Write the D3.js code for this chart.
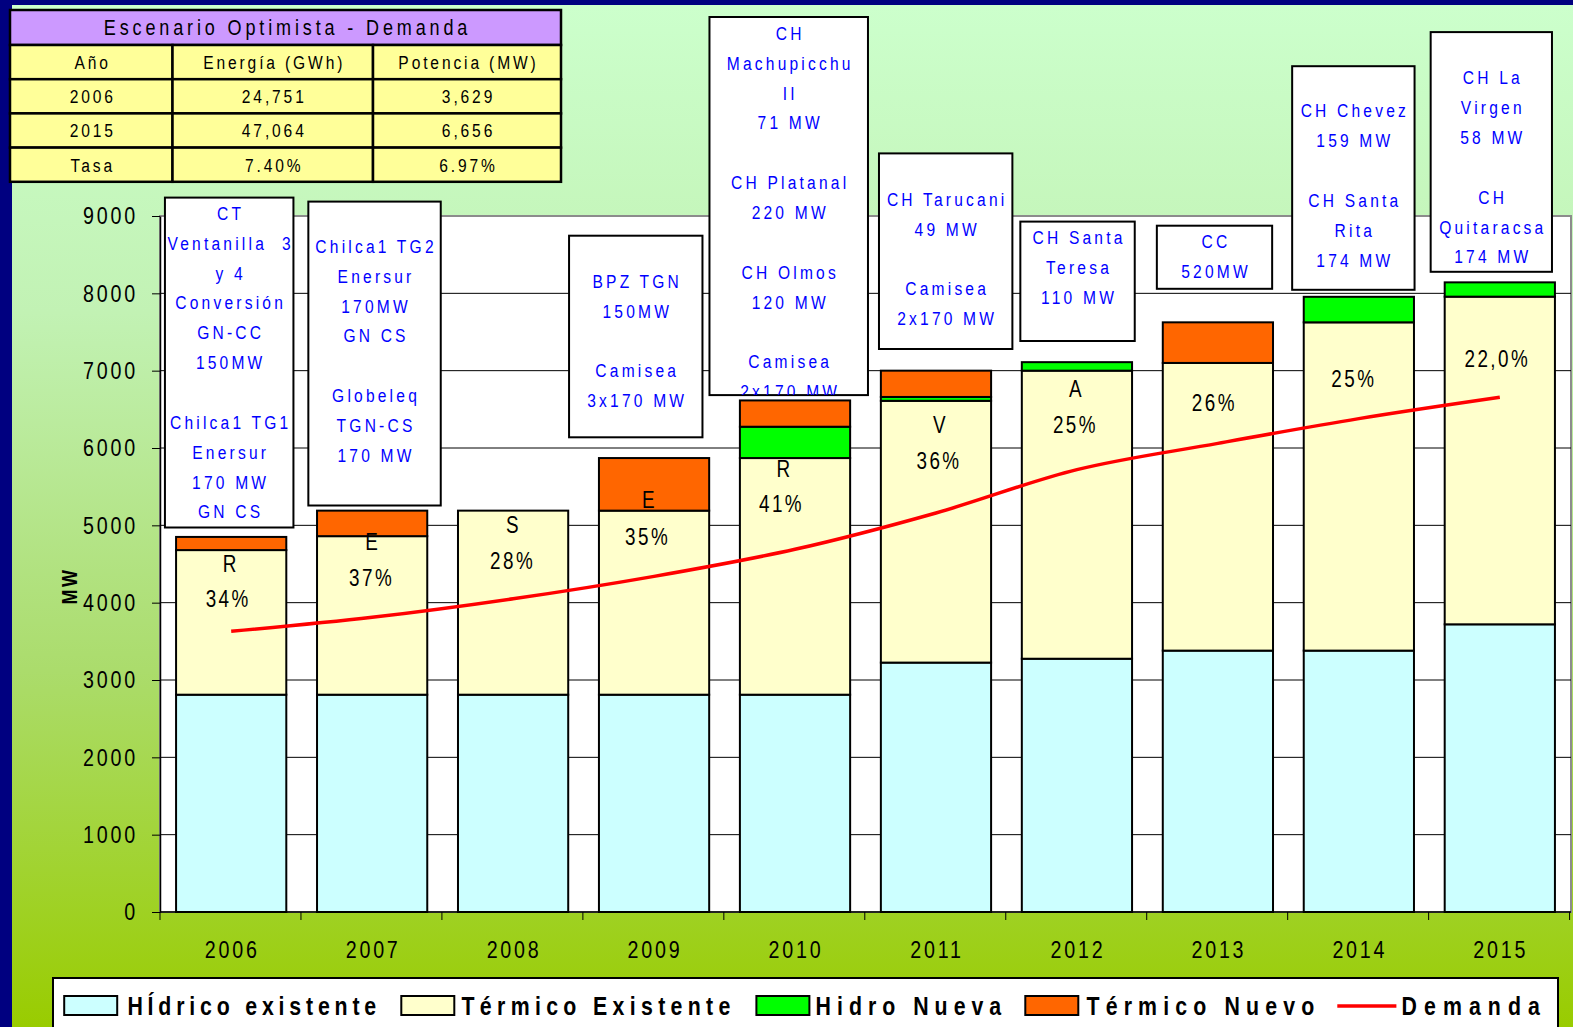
<!DOCTYPE html>
<html>
<head>
<meta charset="utf-8">
<script src="https://cdn.jsdelivr.net/npm/d3@7"></script>
<style>
html, body { margin: 0; padding: 0; background: #000080; overflow: hidden; }
svg { display: block; }
text { font-family: "Liberation Sans Narrow", "Arial Narrow", "Liberation Sans", Arial, sans-serif; white-space: pre; }
</style>
</head>
<body>
<svg id="chart" width="1573" height="1027"></svg>
<script>
// datos
var anios = ["2006", "2007", "2008", "2009", "2010", "2011", "2012", "2013", "2014", "2015"];
var hidricoExistente = [2810, 2810, 2810, 2810, 2810, 3225, 3275, 3380, 3380, 3720];
var termicoExistente = [1870, 2050, 2380, 2380, 3060, 3385, 3725, 3720, 4245, 4237];
var hidroNueva = [0, 0, 0, 0, 405, 50, 110, 0, 330, 185];
var termicoNuevo = [170, 330, 0, 680, 340, 340, 0, 525, 0, 0];
var demanda = [3629, 3810, 4050, 4340, 4690, 5160, 5720, 6060, 6380, 6656];
var reservaLetra = ["R", "E", "S", "E", "R", "V", "A", "", "", ""];
var reservaPct = ["34%", "37%", "28%", "35%", "41%", "36%", "25%", "26%", "25%", "22,0%"];
var yTicks = [0, 1000, 2000, 3000, 4000, 5000, 6000, 7000, 8000, 9000];

var tablaTitulo = "Escenario Optimista - Demanda";
var tablaCabecera = ["Año", "Energía (GWh)", "Potencia (MW)"];
var tablaFilas = [
    ["2006", "24,751", "3,629"],
    ["2015", "47,064", "6,656"],
    ["Tasa", "7.40%", "6.97%"]
];

var anotaciones = [
    { anio: "2006", lineas: ["CT", "Ventanilla  3", "y 4", "Conversión", "GN-CC", "150MW", "", "Chilca1 TG1", "Enersur", "170 MW", "GN CS"] },
    { anio: "2007", lineas: ["Chilca1 TG2", "Enersur", "170MW", "GN CS", "", "Globeleq", "TGN-CS", "170 MW"] },
    { anio: "2009", lineas: ["BPZ TGN", "150MW", "", "Camisea", "3x170 MW"] },
    { anio: "2010", lineas: ["CH", "Machupicchu", "II", "71 MW", "", "CH Platanal", "220 MW", "", "CH Olmos", "120 MW", "", "Camisea", "2x170 MW"] },
    { anio: "2011", lineas: ["CH Tarucani", "49 MW", "", "Camisea", "2x170 MW"] },
    { anio: "2012", lineas: ["CH Santa", "Teresa", "110 MW"] },
    { anio: "2013", lineas: ["CC", "520MW"] },
    { anio: "2014", lineas: ["CH Chevez", "159 MW", "", "CH Santa", "Rita", "174 MW"] },
    { anio: "2015", lineas: ["CH La", "Virgen", "58 MW", "", "CH", "Quitaracsa", "174 MW"] }
];

var series = [
    { key: "hidricoExistente", nombre: "HÍdrico existente", valores: hidricoExistente, color: "#ccffff" },
    { key: "termicoExistente", nombre: "Térmico Existente", valores: termicoExistente, color: "#ffffcc" },
    { key: "hidroNueva", nombre: "Hidro Nueva", valores: hidroNueva, color: "#00ff00" },
    { key: "termicoNuevo", nombre: "Térmico Nuevo", valores: termicoNuevo, color: "#ff6600" }
];

// posiciones de las cajas de texto (desplazamiento respecto al centro de la barra)
var cajas = {
    "2006": { dx: -2, w: 128.5, top: 197.6, bottom: 527.5, first: 213 },
    "2007": { dx: 2.4, w: 132.4, top: 201.6, bottom: 505.5, first: 246 },
    "2009": { dx: -18.3, w: 133.4, top: 235.7, bottom: 437.3, first: 281 },
    "2010": { dx: -6.3, w: 158.5, top: 17, bottom: 395.1, first: 33 },
    "2011": { dx: 9.7, w: 133.4, top: 153.4, bottom: 349, first: 199 },
    "2012": { dx: 0.6, w: 114.4, top: 221.6, bottom: 341, first: 237 },
    "2013": { dx: -3.4, w: 115.3, top: 225.7, bottom: 288.8, first: 241 },
    "2014": { dx: -5.5, w: 122.4, top: 66.2, bottom: 289.8, first: 110.5 },
    "2015": { dx: -8.5, w: 121.3, top: 32.1, bottom: 271.8, first: 77.5 }
};
var letraDx = [-2, -1, -1, -6, -12, 3, -2, 0, 0, 0];
var letraDy = [14, 6, 14, -11, 11, 24, 18, 0, 0, 0];
var pctDx = [-4.5, -2, -2, -8, -15, 1.5, -3, -5, -6.5, -4];
var pctDy = [49, 42, 50, 26, 46, 60, 54, 40, 56, 62];

var ESC = 0.82; // no hay Arial Narrow: se comprime la letra en horizontal
function angosto(px, py) {
    return "translate(" + px + "," + py + ") scale(" + ESC + ",1)";
}

var svg = d3.select("#chart");
var W = 1573, H = 1027;
var plot = { left: 160, right: 1571, top: 216, bottom: 912 };

// fondo degradado
var defs = svg.append("defs");
var grad = defs.append("linearGradient").attr("id", "fondo").attr("x1", 0).attr("y1", 0).attr("x2", 0).attr("y2", 1);
grad.append("stop").attr("offset", "0%").attr("stop-color", "#ccffcc");
grad.append("stop").attr("offset", "30%").attr("stop-color", "#c2f2b4");
grad.append("stop").attr("offset", "65%").attr("stop-color", "#abdc6c");
grad.append("stop").attr("offset", "100%").attr("stop-color", "#99cc00");

svg.append("rect").attr("x", 0).attr("y", 0).attr("width", W).attr("height", H).attr("fill", "#000080");
svg.append("rect").attr("x", 12).attr("y", 5).attr("width", W - 12).attr("height", H - 5).attr("fill", "url(#fondo)");

var x = d3.scaleBand().domain(anios).range([plot.left, plot.right]).paddingInner(0.218).paddingOuter(0.114);
var y = d3.scaleLinear().domain([0, 9000]).range([plot.bottom, plot.top]);
var paso = x.step();

// area de trazado
svg.append("rect")
    .attr("x", plot.left).attr("y", plot.top)
    .attr("width", plot.right - plot.left).attr("height", plot.bottom - plot.top)
    .attr("fill", "#ffffff").attr("stroke", "#8c8c8c").attr("stroke-width", 2);

svg.append("g").selectAll("line")
    .data(yTicks.filter(function (d) { return d > 0 && d < 9000; }))
    .enter().append("line")
    .attr("x1", plot.left).attr("x2", plot.right)
    .attr("y1", function (d) { return y(d); }).attr("y2", function (d) { return y(d); })
    .attr("stroke", "#000").attr("stroke-width", 1);

// barras apiladas
var filas = anios.map(function (a, i) {
    var o = { anio: a };
    series.forEach(function (s) { o[s.key] = s.valores[i]; });
    return o;
});
var stack = d3.stack().keys(series.map(function (s) { return s.key; }));
var capas = stack(filas);

svg.append("g").selectAll("g")
    .data(capas)
    .enter().append("g")
    .attr("fill", function (d, i) { return series[i].color; })
    .selectAll("rect")
    .data(function (d) { return d.filter(function (p) { return p[1] - p[0] > 0; }); })
    .enter().append("rect")
    .attr("x", function (d) { return x(d.data.anio); })
    .attr("y", function (d) { return y(d[1]); })
    .attr("width", x.bandwidth())
    .attr("height", function (d) { return y(d[0]) - y(d[1]); })
    .attr("stroke", "#000").attr("stroke-width", 2);

// linea de demanda
var linea = d3.line()
    .x(function (d, i) { return x(anios[i]) + x.bandwidth() / 2; })
    .y(function (d) { return y(d); })
    .curve(d3.curveCatmullRom.alpha(0.5));

svg.append("path")
    .datum(demanda)
    .attr("d", linea)
    .attr("fill", "none").attr("stroke", "#ff0000").attr("stroke-width", 3.5);

// etiquetas de reserva
var topeTermico = capas[1];
var etiquetas = svg.append("g").attr("font-size", 23).attr("fill", "#000").attr("text-anchor", "middle").style("letter-spacing", "3px");
etiquetas.selectAll("text.letra")
    .data(anios)
    .enter().append("text").attr("class", "letra")
    .attr("transform", function (d, i) {
        return angosto(x(d) + x.bandwidth() / 2 + letraDx[i] + 1.5, y(topeTermico[i][1]) + letraDy[i]);
    })
    .attr("dy", "0.36em")
    .text(function (d, i) { return reservaLetra[i]; });
etiquetas.selectAll("text.pct")
    .data(anios)
    .enter().append("text").attr("class", "pct")
    .attr("transform", function (d, i) {
        return angosto(x(d) + x.bandwidth() / 2 + pctDx[i] + 1.5, y(topeTermico[i][1]) + pctDy[i]);
    })
    .attr("dy", "0.36em")
    .text(function (d, i) { return reservaPct[i]; });

// ejes
var ejeY = d3.axisLeft(y).tickValues(yTicks).tickSize(8).tickSizeOuter(0).tickPadding(14).tickFormat(function (d) { return d; });
var gy = svg.append("g").attr("transform", "translate(" + plot.left + ",0)").call(ejeY);
gy.select(".domain").attr("stroke", "#000").attr("stroke-width", 1.5);
gy.selectAll(".tick line").attr("stroke", "#000");
gy.selectAll(".tick text")
    .attr("x", -22 / ESC).attr("transform", "scale(" + ESC + ",1)")
    .attr("font-size", 24).attr("fill", "#000").style("letter-spacing", "3.4px")
    .attr("font-family", null);

svg.append("line")
    .attr("x1", plot.left).attr("x2", plot.right)
    .attr("y1", plot.bottom).attr("y2", plot.bottom)
    .attr("stroke", "#000").attr("stroke-width", 1.5);

var cortes = d3.range(anios.length + 1).map(function (i) { return plot.left + i * paso; });
svg.append("g").selectAll("line")
    .data(cortes)
    .enter().append("line")
    .attr("x1", function (d) { return d; }).attr("x2", function (d) { return d; })
    .attr("y1", plot.bottom).attr("y2", plot.bottom + 8)
    .attr("stroke", "#000");

svg.append("g").selectAll("text")
    .data(anios)
    .enter().append("text")
    .attr("transform", function (d) { return angosto(x(d) + x.bandwidth() / 2 + 1, 958); })
    .attr("text-anchor", "middle").attr("font-size", 24).style("letter-spacing", "3.4px")
    .text(function (d) { return d; });

svg.append("text")
    .attr("transform", "translate(77,586) rotate(-90) scale(" + ESC + ",1)")
    .attr("text-anchor", "middle").attr("font-size", 22).attr("font-weight", "bold")
    .style("letter-spacing", "3px")
    .text("MW");

// cajas de proyectos
var gCajas = svg.append("g");
anotaciones.forEach(function (a, k) {
    var c = cajas[a.anio];
    var cx = x(a.anio) + x.bandwidth() / 2 + c.dx;
    var x0 = cx - c.w / 2;
    defs.append("clipPath").attr("id", "clip" + k)
        .append("rect").attr("x", x0).attr("y", c.top).attr("width", c.w).attr("height", c.bottom - c.top);
    var g = gCajas.append("g");
    g.append("rect")
        .attr("x", x0).attr("y", c.top).attr("width", c.w).attr("height", c.bottom - c.top)
        .attr("fill", "#fff").attr("stroke", "#000").attr("stroke-width", 2);
    g.append("g").attr("clip-path", "url(#clip" + k + ")")
        .selectAll("text")
        .data(a.lineas)
        .enter().append("text")
        .attr("transform", function (d, i) { return angosto(cx + 1.5, c.first + i * 29.85); })
        .attr("dy", "0.36em")
        .attr("text-anchor", "middle").attr("font-size", 19).attr("fill", "#0000ff")
        .style("letter-spacing", "3.9px")
        .text(function (d) { return d; });
});

// tabla de demanda
var tabla = { y: 10, cols: [10, 172.5, 373, 561], filaH: 34.2, tituloH: 35 };
var gt = svg.append("g");
gt.append("rect").attr("x", tabla.cols[0]).attr("y", tabla.y)
    .attr("width", tabla.cols[3] - tabla.cols[0]).attr("height", tabla.tituloH)
    .attr("fill", "#cc99ff").attr("stroke", "#000").attr("stroke-width", 2.5);
gt.append("text")
    .attr("transform", angosto((tabla.cols[0] + tabla.cols[3]) / 2 + 2, tabla.y + tabla.tituloH / 2))
    .attr("dy", "0.36em").attr("text-anchor", "middle").attr("font-size", 22)
    .style("letter-spacing", "4.7px")
    .text(tablaTitulo);

var todasFilas = [tablaCabecera].concat(tablaFilas);
todasFilas.forEach(function (fila, r) {
    var fy = tabla.y + tabla.tituloH + r * tabla.filaH;
    fila.forEach(function (celda, c) {
        gt.append("rect")
            .attr("x", tabla.cols[c]).attr("y", fy)
            .attr("width", tabla.cols[c + 1] - tabla.cols[c]).attr("height", tabla.filaH)
            .attr("fill", "#ffff99").attr("stroke", "#000").attr("stroke-width", 2.5);
        gt.append("text")
            .attr("transform", angosto((tabla.cols[c] + tabla.cols[c + 1]) / 2 + 1.5, fy + tabla.filaH / 2))
            .attr("dy", "0.36em").attr("text-anchor", "middle").attr("font-size", 19)
            .style("letter-spacing", "3.5px")
            .text(celda);
    });
});

// leyenda
var leyenda = svg.append("g");
leyenda.append("rect").attr("x", 53).attr("y", 978).attr("width", 1505).attr("height", 70)
    .attr("fill", "#fff").attr("stroke", "#000").attr("stroke-width", 2);
var posLeyenda = [
    { sx: 64.2, tx: 127.4, tw: 248.8 },
    { sx: 401.3, tx: 461.5, tw: 268.9 },
    { sx: 756.4, tx: 815.6, tw: 185.6 },
    { sx: 1025.3, tx: 1086.5, tw: 227.7 }
];
series.forEach(function (s, i) {
    var p = posLeyenda[i];
    leyenda.append("rect").attr("x", p.sx).attr("y", 996).attr("width", 53).attr("height", 19)
        .attr("fill", s.color).attr("stroke", "#000").attr("stroke-width", 2);
    leyenda.append("text").attr("transform", angosto(p.tx, 1015))
        .attr("font-size", 26).attr("font-weight", "bold")
        .attr("textLength", p.tw / ESC).attr("lengthAdjust", "spacing")
        .text(s.nombre);
});
leyenda.append("line").attr("x1", 1337.3).attr("x2", 1396.4).attr("y1", 1006).attr("y2", 1006)
    .attr("stroke", "#ff0000").attr("stroke-width", 3.5);
leyenda.append("text").attr("transform", angosto(1401.5, 1015))
    .attr("font-size", 26).attr("font-weight", "bold")
    .attr("textLength", 138.4 / ESC).attr("lengthAdjust", "spacing")
    .text("Demanda");
</script>
</body>
</html>
